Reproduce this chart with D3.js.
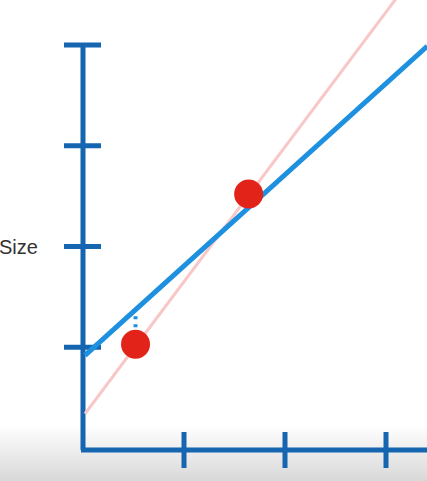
<!DOCTYPE html><html><head><script src="https://cdn.jsdelivr.net/npm/d3@7"></script>
<style>body{margin:0;background:#fff}</style></head><body><svg width="427" height="481"></svg>
<script>
const xTicks=[1,2,3];
const yTicks=[1,2,3,4];
const pointsX=[0.52,1.64];
const pointsY=[1.03,2.52];
const fitLine={intercept:0.92,slope:0.90};
const trueLine={intercept:0.34,slope:1.33};
const svg=d3.select("svg");
const x=d3.scaleLinear().domain([0,3]).range([83,386]);
const y=d3.scaleLinear().domain([0,4]).range([448,45]);
const defs=svg.append("defs");
const g=defs.append("linearGradient").attr("id","bg").attr("x1",0).attr("x2",0).attr("y1",0).attr("y2",1);
g.append("stop").attr("offset","0").attr("stop-color","#fff");
g.append("stop").attr("offset","1").attr("stop-color","#d8d8d8");
svg.append("rect").attr("x",0).attr("y",425).attr("width",427).attr("height",56).attr("fill","url(#bg)");
const blue="#1565b0";
// axes
svg.append("line").attr("x1",x(0)).attr("x2",x(0)).attr("y1",y(4)).attr("y2",y(0)+2).attr("stroke",blue).attr("stroke-width",5);
svg.append("line").attr("x1",x(0)-2).attr("x2",427).attr("y1",y(0)+2).attr("y2",y(0)+2).attr("stroke",blue).attr("stroke-width",5);
svg.selectAll(".yt").data(yTicks).join("line").attr("x1",x(0)-19).attr("x2",x(0)+18).attr("y1",d=>y(d)).attr("y2",d=>y(d)).attr("stroke",blue).attr("stroke-width",5);
svg.selectAll(".xt").data(xTicks).join("line").attr("x1",d=>x(d)).attr("x2",d=>x(d)).attr("y1",y(0)-16).attr("y2",y(0)+20).attr("stroke",blue).attr("stroke-width",5);
svg.append("text").attr("x",-1).attr("y",y(2)+7).attr("font-family","Liberation Sans, Arial").attr("font-size",20).attr("fill","#333").text("Size");
// true line
const xe=3.41;
svg.append("line").attr("x1",x(0)+2).attr("y1",y(trueLine.intercept)).attr("x2",x(xe)).attr("y2",y(trueLine.intercept+trueLine.slope*xe)).attr("stroke","#f8c8c8").attr("stroke-width",3);
// residual
svg.append("line").attr("x1",x(pointsX[0])).attr("x2",x(pointsX[0])).attr("y1",y(pointsY[0])-17).attr("y2",y(fitLine.intercept+fitLine.slope*pointsX[0])+2).attr("stroke","#1e90e0").attr("stroke-width",4).attr("stroke-dasharray","3,5");
// fit line
svg.append("line").attr("x1",x(0)+2).attr("y1",y(fitLine.intercept)).attr("x2",x(xe)).attr("y2",y(fitLine.intercept+fitLine.slope*xe)).attr("stroke","#1e90e0").attr("stroke-width",5);
svg.selectAll(".pt").data(pointsX).join("circle").attr("cx",d=>x(d)).attr("cy",(d,i)=>y(pointsY[i])).attr("r",14.5).attr("fill","#e2231a");
</script></body></html>
